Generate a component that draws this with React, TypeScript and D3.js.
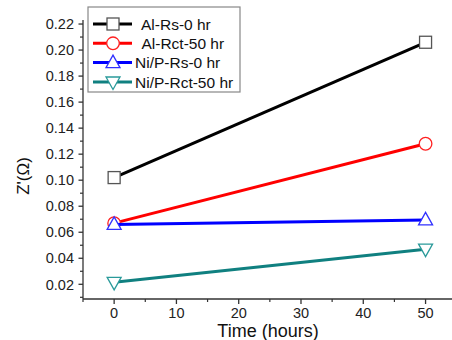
import React from "react";
import * as d3 from "d3";

const hours = [0, 50];
const seriesNames = ["Al-Rs-0 hr", " Al-Rct-50 hr", "Ni/P-Rs-0 hr", "Ni/P-Rct-50 hr"];
const alRs = [0.102, 0.206];
const alRct = [0.067, 0.128];
const niRs = [0.066, 0.0695];
const niRct = [0.0215, 0.047];
const seriesColors = ["#000000", "#ff0000", "#0000ff", "#108080"];
const markerColors = ["#555555", "#ff2020", "#3030ff", "#2a9a9a"];
const markerShapes = ["square", "circle", "up", "down"];
const xTicks = [0, 10, 20, 30, 40, 50];
const yTicks = [0.02, 0.04, 0.06, 0.08, 0.1, 0.12, 0.14, 0.16, 0.18, 0.2, 0.22];

const W = 452;
const H = 340;

function Marker({ shape, cx, cy, color }: { shape: string; cx: number; cy: number; color: string }) {
  const common = { fill: "#fff", stroke: color, strokeWidth: 1.3 };
  if (shape === "square") return <rect x={cx - 6} y={cy - 6} width={12} height={12} {...common} />;
  if (shape === "circle") return <circle cx={cx} cy={cy} r={6.3} {...common} />;
  if (shape === "up")
    return <path d={`M${cx - 7},${cy + 5} L${cx + 7},${cy + 5} L${cx},${cy - 7.5} Z`} {...common} />;
  return <path d={`M${cx - 7},${cy - 5} L${cx + 7},${cy - 5} L${cx},${cy + 7.5} Z`} {...common} />;
}

export default function App() {
  const x = d3.scaleLinear().domain([-5, 55]).range([83, 456.7]);
  const y = d3.scaleLinear().domain([0.0087, 0.2231]).range([299, 20]);
  const allSeries = [alRs, alRct, niRs, niRct];
  const line = d3
    .line<number>()
    .x((_, i) => x(hours[i]))
    .y((d) => y(d));
  const xMinor = d3.range(-5, 56, 5).filter((v) => v % 10 !== 0);
  const yMinor = d3.range(1, 23).map((v) => v / 100).filter((v) => Math.round(v * 100) % 2 === 1);
  const axisColor = "#333";
  const font = "Arial, 'Liberation Sans', sans-serif";
  const legX = 88;
  const legY = 7;
  const rowY = [24, 43.3, 62.6, 82];
  const textX = [141, 138, 135, 135];

  return (
    <svg width={W} height={H} style={{ position: "absolute", left: 0, top: 0, background: "#fff" }} fontFamily={font}>
      <rect x={0} y={0} width={W} height={H} fill="#fff" />
      {/* axes */}
      <line x1={x(-5)} x2={W} y1={299} y2={299} stroke={axisColor} strokeWidth={1.3} />
      <line x1={83} x2={83} y1={20} y2={299} stroke={axisColor} strokeWidth={1.3} />
      {xTicks.map((t) => (
        <g key={"xt" + t}>
          <line x1={x(t)} x2={x(t)} y1={299} y2={304} stroke={axisColor} strokeWidth={1.3} />
          <text x={x(t)} y={317.5} fontSize={14.5} textAnchor="middle" fill="#222">
            {t}
          </text>
        </g>
      ))}
      {xMinor.map((t) => (
        <line key={"xm" + t} x1={x(t)} x2={x(t)} y1={299} y2={302} stroke={axisColor} strokeWidth={1.2} />
      ))}
      {yTicks.map((t) => (
        <g key={"yt" + t}>
          <line x1={78.5} x2={83} y1={y(t)} y2={y(t)} stroke={axisColor} strokeWidth={1.3} />
          <text x={74} y={y(t)} dy="0.36em" fontSize={14.5} textAnchor="end" fill="#222">
            {t.toFixed(2)}
          </text>
        </g>
      ))}
      {yMinor.map((t) => (
        <line key={"ym" + t} x1={80} x2={83} y1={y(t)} y2={y(t)} stroke={axisColor} strokeWidth={1.2} />
      ))}
      <text x={268} y={337} fontSize={18} textAnchor="middle" fill="#111">
        Time (hours)
      </text>
      <text transform={`translate(29,176) rotate(-90)`} fontSize={17} textAnchor="middle" fill="#111">
        Z'(Ω)
      </text>
      {/* series */}
      {allSeries.map((s, k) => (
        <g key={"s" + k}>
          <path d={line(s) || ""} fill="none" stroke={seriesColors[k]} strokeWidth={3} />
          {s.map((v, i) => (
            <Marker key={i} shape={markerShapes[k]} cx={x(hours[i])} cy={y(v)} color={markerColors[k]} />
          ))}
        </g>
      ))}
      {/* legend */}
      <rect x={legX} y={legY} width={152} height={85} fill="#fff" stroke="#888" strokeWidth={1.2} />
      {seriesNames.map((n, k) => (
        <g key={"l" + k}>
          <line x1={93} x2={132} y1={rowY[k]} y2={rowY[k]} stroke={seriesColors[k]} strokeWidth={3} />
          <Marker shape={markerShapes[k]} cx={113} cy={rowY[k]} color={markerColors[k]} />
          <text x={textX[k]} y={rowY[k]} dy="0.36em" fontSize={15.5} fill="#111" style={{ whiteSpace: "pre" }}>
            {n}
          </text>
        </g>
      ))}
    </svg>
  );
}
